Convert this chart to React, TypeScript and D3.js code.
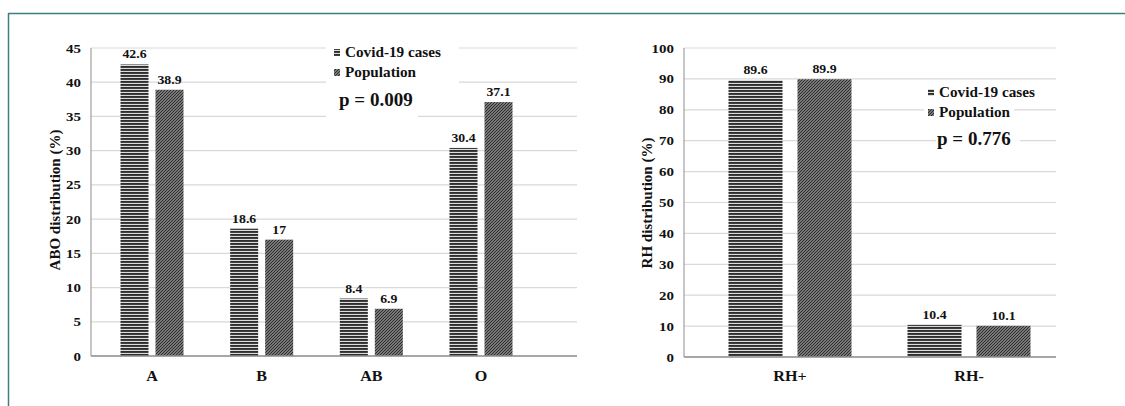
import React from "react";
import * as d3 from "d3";

const aboCategories = ["A", "B", "AB", "O"];
const aboCovid = [42.6, 18.6, 8.4, 30.4];
const aboPopulation = [38.9, 17, 6.9, 37.1];
const aboTicks = [0, 5, 10, 15, 20, 25, 30, 35, 40, 45];

const rhCategories = ["RH+", "RH-"];
const rhCovid = [89.6, 10.4];
const rhPopulation = [89.9, 10.1];
const rhTicks = [0, 10, 20, 30, 40, 50, 60, 70, 80, 90, 100];

const seriesNames = ["Covid-19 cases", "Population"];

const FONT = "Liberation Serif, Times New Roman, Times, serif";

function T({ x, y, sx = 1.15, size, anchor = "middle", children, weight = "bold" }: any) {
  return (
    <text
      transform={`translate(${x},${y}) scale(${sx},1)`}
      fontFamily={FONT}
      fontWeight={weight}
      fontSize={size}
      textAnchor={anchor}
      fill="#111"
    >
      {children}
    </text>
  );
}

function Panel({
  categories, covid, population, ticks, yMax, left, right, top, bottom, pointRange,
  barHalf, padInner, yLabel, yLabelX, yLabelY, legend, boxes,
}: any) {
  const y = d3.scaleLinear().domain([0, yMax]).range([bottom, top]);
  const x = d3.scalePoint<string>().domain(categories).range(pointRange);
  const sub = d3.scaleBand<string>().domain(["covid", "pop"]).range([-barHalf, barHalf]).paddingInner(padInner);
  return (
    <g>
      {ticks.map((t: number) => (
        <line key={"g" + t} x1={left} x2={right} y1={y(t)} y2={y(t)} stroke="#d9d9d9" strokeWidth={1.2} />
      ))}
      {boxes.map((b: number[], i: number) => (
        <rect key={"b" + i} x={b[0]} y={b[1]} width={b[2] - b[0]} height={b[3] - b[1]} fill="#fff" />
      ))}
      <line x1={left} x2={left} y1={top} y2={bottom} stroke="#a0a0a0" strokeWidth={1.2} />
      {categories.map((c: string, i: number) => {
        const cx = x(c) as number;
        const xs = [cx + (sub("covid") as number), cx + (sub("pop") as number)];
        const vals = [covid[i], population[i]];
        const fills = ["url(#stripe)", "url(#hatch)"];
        return (
          <g key={c}>
            {vals.map((v: number, j: number) => (
              <g key={j}>
                <rect x={xs[j]} y={y(v)} width={sub.bandwidth()} height={y(0) - y(v)} fill={fills[j]} />
                <T x={xs[j] + sub.bandwidth() / 2} y={y(v) - 6} size={12}>{String(v)}</T>
              </g>
            ))}
            <T x={cx} y={381} size={14}>{c}</T>
          </g>
        );
      })}
      <line x1={left} x2={right} y1={bottom} y2={bottom} stroke="#909090" strokeWidth={1.6} />
      {ticks.map((t: number) => (
        <T key={"t" + t} x={left - 10} y={y(t) + 4.5} size={13} anchor="end">{String(t)}</T>
      ))}
      <text
        transform={`translate(${yLabelX},${yLabelY}) rotate(-90)`}
        fontFamily={FONT}
        fontWeight="bold"
        fontSize={15}
        textAnchor="middle"
        fill="#111"
      >
        {yLabel}
      </text>
      {seriesNames.map((s: string, i: number) => (
        <g key={s}>
          <rect x={legend.x} y={legend.y + i * 20 - 8} width={6} height={7} fill={i === 0 ? "url(#stripe)" : "url(#hatch)"} />
          <T x={legend.x + 11} y={legend.y + i * 20} size={14.5} sx={1.05} anchor="start">{s}</T>
        </g>
      ))}
      <T x={legend.px} y={legend.py} size={19} sx={1.0} anchor="start">{legend.p}</T>
    </g>
  );
}

export default function App() {
  return (
    <svg width={1125} height={406} style={{ position: "absolute", left: 0, top: 0, background: "#fff" }}>
      <defs>
        <pattern id="stripe" patternUnits="userSpaceOnUse" width={4} height={3}>
          <rect width={4} height={3} fill="#dcdcdc" />
          <rect width={4} height={1.9} fill="#2e2e2e" />
        </pattern>
        <pattern id="hatch" patternUnits="userSpaceOnUse" width={3} height={3}>
          <rect width={3} height={3} fill="#9a9a9a" />
          <path d="M-1,1 l2,-2 M0,3 l3,-3 M2,4 l2,-2" stroke="#2a2a2a" strokeWidth={1.2} />
        </pattern>
      </defs>
      <rect x={0} y={0} width={1125} height={406} fill="#fff" />
      <line x1={8.5} x2={8.5} y1={13} y2={406} stroke="#3d7f80" strokeWidth={1.5} />
      <line x1={8} x2={1125} y1={13.5} y2={13.5} stroke="#3d7f80" strokeWidth={1.5} />
      <Panel
        categories={aboCategories}
        covid={aboCovid}
        population={aboPopulation}
        ticks={aboTicks}
        yMax={45}
        left={91}
        right={577}
        top={48}
        bottom={356}
        pointRange={[152, 481]}
        barHalf={31.5}
        padInner={0.2}
        yLabel="ABO distribution (%)"
        yLabelX={60}
        yLabelY={200}
        legend={{ x: 334, y: 57, px: 339, py: 106, p: "p = 0.009" }}
        boxes={[[326, 44, 459, 100], [326, 100, 418, 120]]}
      />
      <Panel
        categories={rhCategories}
        covid={rhCovid}
        population={rhPopulation}
        ticks={rhTicks}
        yMax={100}
        left={684}
        right={1056}
        top={48}
        bottom={357}
        pointRange={[790, 969]}
        barHalf={61.5}
        padInner={0.217}
        yLabel="RH distribution (%)"
        yLabelX={652}
        yLabelY={203}
        legend={{ x: 928, y: 97, px: 937, py: 145, p: "p = 0.776" }}
        boxes={[[924, 88, 1014, 128], [936, 128, 1020, 150]]}
      />
    </svg>
  );
}
